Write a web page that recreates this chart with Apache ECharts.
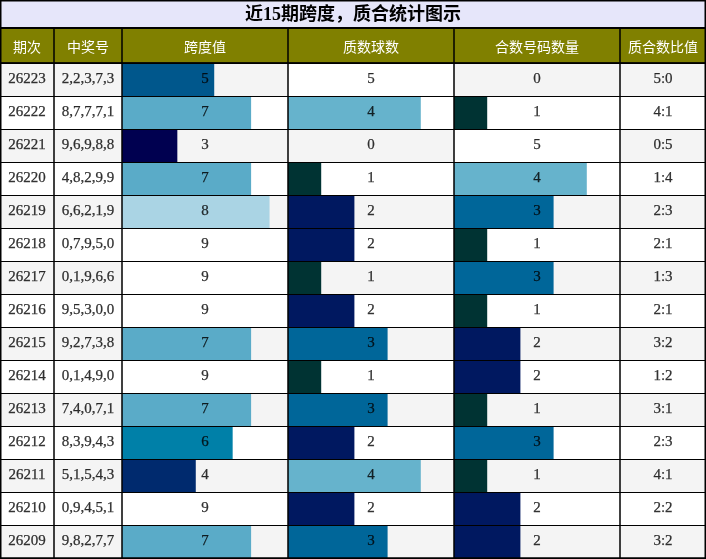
<!DOCTYPE html>
<html>
<head>
<meta charset="utf-8">
<script src="https://cdn.jsdelivr.net/npm/echarts@6/dist/echarts.min.js"></script>
<style>
html,body{margin:0;padding:0;background:#fff;}
#chart{width:706px;height:559px;}
</style>
</head>
<body>
<div id="chart"></div>
<script>
// ---- data ----
const titleText = '近15期跨度，质合统计图示';
const headers = ['期次', '中奖号', '跨度值', '质数球数', '合数号码数量', '质合数比值'];
const periods = ['26223','26222','26221','26220','26219','26218','26217','26216','26215','26214','26213','26212','26211','26210','26209'];
const numbers = ['2,2,3,7,3','8,7,7,7,1','9,6,9,8,8','4,8,2,9,9','6,6,2,1,9','0,7,9,5,0','0,1,9,6,6','9,5,3,0,0','9,2,7,3,8','0,1,4,9,0','7,4,0,7,1','8,3,9,4,3','5,1,5,4,3','0,9,4,5,1','9,8,2,7,7'];
const spans = [5,7,3,7,8,9,9,9,7,9,7,6,4,9,7];
const primes = [5,4,0,1,2,2,1,2,3,1,3,2,4,2,3];
const composites = [0,1,5,4,3,1,3,1,2,2,1,3,1,2,2];
const ratios = ['5:0','4:1','0:5','1:4','2:3','2:1','1:3','2:1','3:2','1:2','3:1','2:3','4:1','2:2','3:2'];
const spanMax = 9;
const countMax = 5;

// ---- styles ----
const spanColors = {3:'#000050',4:'#002a6e',5:'#00578c',6:'#0080a8',7:'#5aabc8',8:'#aad4e4',9:'#ffffff'};
const countColors = {1:'#003333',2:'#001860',3:'#006699',4:'#66b3cc',5:'#ffffff'};
const cols = [{x:0,w:54},{x:54,w:68},{x:122,w:166},{x:288,w:166},{x:454,w:166},{x:620,w:86}];
const W = 706, titleH = 28, headH = 35, bodyTop = 63, bodyH = 495;
const numFont = {fontFamily:'Liberation Serif', fontSize:15, color:'#000', textBorderColor:'#000', textBorderWidth:0.25};

const chart = echarts.init(document.getElementById('chart'), null, {renderer:'canvas'});

const grids = [], xAxes = [], yAxes = [], series = [];
const colDefs = [
  {type:'text', texts: periods},
  {type:'text', texts: numbers},
  {type:'bar', values: spans, max: spanMax, colors: spanColors},
  {type:'bar', values: primes, max: countMax, colors: countColors},
  {type:'bar', values: composites, max: countMax, colors: countColors},
  {type:'text', texts: ratios}
];

colDefs.forEach((def, i) => {
  const c = cols[i];
  grids.push({left:c.x, top:bodyTop, width:c.w, height:bodyH, show:true, z:8,
    backgroundColor:'transparent', borderColor:'#000', borderWidth:1, containLabel:false});
  const max = def.type === 'bar' ? def.max : 1;
  xAxes.push({type:'value', gridIndex:i, min:0, max:max, show:false});
  yAxes.push({type:'category', gridIndex:i, data:periods, inverse:true, z:0,
    axisLine:{show:false}, axisTick:{show:false}, axisLabel:{show:false},
    splitLine:{show:false}, splitArea:{show:true, areaStyle:{color:['#f4f4f4','#ffffff']}}});
  yAxes.push({type:'category', gridIndex:i, data:periods, inverse:true, z:7,
    axisLine:{show:false}, axisTick:{show:false}, axisLabel:{show:false},
    splitArea:{show:false}, splitLine:{show:true, lineStyle:{color:'#000', width:1}}});
  const yIdx = 2 * i;
  if (def.type === 'bar') {
    series.push({type:'bar', xAxisIndex:i, yAxisIndex:yIdx, z:3,
      barCategoryGap:'0%', data:def.values,
      itemStyle:{color: p => def.colors[p.value] || 'transparent'},
      silent:true});
    series.push({type:'scatter', xAxisIndex:i, yAxisIndex:yIdx, z:9,
      symbolSize:1, itemStyle:{color:'transparent'},
      data: def.values.map((v, k) => [def.max / 2, k, v]),
      label:Object.assign({show:true, position:'inside', formatter: p => String(p.data[2])}, numFont),
      silent:true});
  } else {
    series.push({type:'scatter', xAxisIndex:i, yAxisIndex:yIdx, z:9,
      symbolSize:1, itemStyle:{color:'transparent'},
      data: def.texts.map((t, k) => [0.5, k, t]),
      label:Object.assign({show:true, position:'inside', formatter: p => p.data[2]}, numFont),
      silent:true});
  }
});

// header / title decoration
const graphics = [
  {type:'rect', shape:{x:0, y:0, width:W, height:titleH}, style:{fill:'#e6e6fa'}, z:1},
  {type:'rect', shape:{x:0, y:titleH, width:W, height:headH}, style:{fill:'#808000'}, z:1},
  {type:'text', x:W/2, y:15, z:10, style:{text:titleText, fill:'#000', font:'bold 18px "Liberation Serif", "Noto Sans CJK SC"', textAlign:'center', textVerticalAlign:'middle'}}
];
headers.forEach((h, i) => {
  const c = cols[i];
  graphics.push({type:'text', x:c.x + c.w/2, y:titleH + headH/2 + 1, z:10,
    style:{text:h, fill:'#fff', font:'14px "Noto Sans CJK SC"', textAlign:'center', textVerticalAlign:'middle'}});
  if (i > 0) {
    graphics.push({type:'line', z:10, shape:{x1:c.x, y1:titleH, x2:c.x, y2:bodyTop}, style:{stroke:'#000', lineWidth:1.5}});
  }
});
graphics.push({type:'line', z:10, shape:{x1:0, y1:titleH, x2:W, y2:titleH}, style:{stroke:'#000', lineWidth:2}});
graphics.push({type:'line', z:10, shape:{x1:0, y1:bodyTop, x2:W, y2:bodyTop}, style:{stroke:'#000', lineWidth:1.5}});
graphics.push({type:'rect', z:10, shape:{x:0.75, y:0.75, width:W-1.5, height:bodyTop+bodyH-0.5}, style:{fill:'none', stroke:'#000', lineWidth:1.5}});

chart.setOption({
  animation:false,
  backgroundColor:'#fff',
  grid:grids, xAxis:xAxes, yAxis:yAxes, series:series,
  graphic:graphics
});
</script>
</body>
</html>
